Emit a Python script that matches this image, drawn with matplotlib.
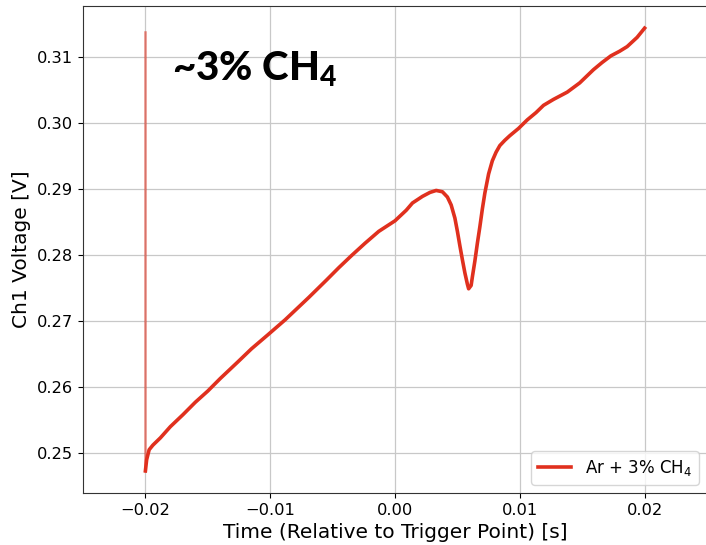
import matplotlib
matplotlib.use("Agg")
import matplotlib.pyplot as plt

plt.rcParams['font.family'] = ['DejaVu Sans']
plt.rcParams['mathtext.fontset'] = 'custom'
plt.rcParams['mathtext.rm'] = 'DejaVu Sans'
plt.rcParams['mathtext.bf'] = 'Lato:black'

# Spike at trigger start (same series)
spike_time = [-0.0200, -0.0200]
spike_volt = [0.3138, 0.2473]

# Main trace
time = [-0.0200, -0.0199, -0.0197, -0.0194, -0.0188, -0.0180, -0.0170, -0.0160,
        -0.0150, -0.0140, -0.0126, -0.0115, -0.0102, -0.0088, -0.0069, -0.0055,
        -0.0045, -0.0035, -0.0024, -0.0013, 0.0000, 0.0009, 0.0014, 0.0022,
        0.0028, 0.0033, 0.0038, 0.0042, 0.0045, 0.0048, 0.0050, 0.0052,
        0.0054, 0.0056, 0.0058, 0.0059, 0.0061, 0.0062, 0.0064, 0.0066,
        0.0068, 0.0070, 0.0072, 0.0075, 0.0078, 0.0081, 0.0084, 0.0088,
        0.0092, 0.0099, 0.0106, 0.0113, 0.0119, 0.0127, 0.0138, 0.0148,
        0.0159, 0.0166, 0.0173, 0.0180, 0.0186, 0.0194, 0.0200]
volt = [0.2473, 0.2490, 0.2505, 0.2512, 0.2523, 0.2540, 0.2558, 0.2577,
        0.2594, 0.2613, 0.2638, 0.2658, 0.2679, 0.2702, 0.2736, 0.2762,
        0.2781, 0.2799, 0.2818, 0.2836, 0.2852, 0.2868, 0.2879, 0.2889,
        0.2895, 0.2898, 0.2896, 0.2888, 0.2876, 0.2856, 0.2836, 0.2814,
        0.2793, 0.2773, 0.2756, 0.2749, 0.2754, 0.2767, 0.2791, 0.2818,
        0.2843, 0.2870, 0.2894, 0.2923, 0.2943, 0.2956, 0.2966, 0.2974,
        0.2981, 0.2992, 0.3005, 0.3016, 0.3027, 0.3036, 0.3047, 0.3061,
        0.3081, 0.3092, 0.3102, 0.3109, 0.3116, 0.3130, 0.3144]

xticks = [-0.02, -0.01, 0.00, 0.01, 0.02]
yticks = [0.25, 0.26, 0.27, 0.28, 0.29, 0.30, 0.31]

color = '#e0301e'

fig = plt.figure(figsize=(7.06, 5.45), dpi=100)
ax = fig.add_axes([83/706, 52/545, 624/706, 487/545])

ax.plot(spike_time, spike_volt, color=color, lw=1.8, alpha=0.55)
ax.plot(time, volt, color=color, lw=2.6, label='Ar + 3% CH$_4$')

ax.set_xlim(-0.025, 0.025)
ax.set_xticks(xticks)
ax.set_yticks(yticks)
ax.set_xticklabels([f'{t:.2f}'.replace('-', '\u2212') for t in xticks])
ax.set_yticklabels([f'{t:.2f}' for t in yticks])
ax.tick_params(labelsize=11.7)
ax.grid(True, color='#c8c8c8', lw=0.9)
ax.set_axisbelow(True)
for s in ax.spines.values():
    s.set_color('#333333')

ax.set_xlabel('Time (Relative to Trigger Point) [s]', fontsize=14.5)
ax.set_ylabel('Ch1 Voltage [V]', fontsize=14.5)

ax.legend(loc='lower right', fontsize=12, framealpha=0.8)

ax.text(-0.0179, 0.3065, '~3% CH$_\\mathbf{4}$', fontsize=29, fontweight='black',
        family='Lato', ha='left', va='baseline')

fig.savefig('out.png', dpi=100)
